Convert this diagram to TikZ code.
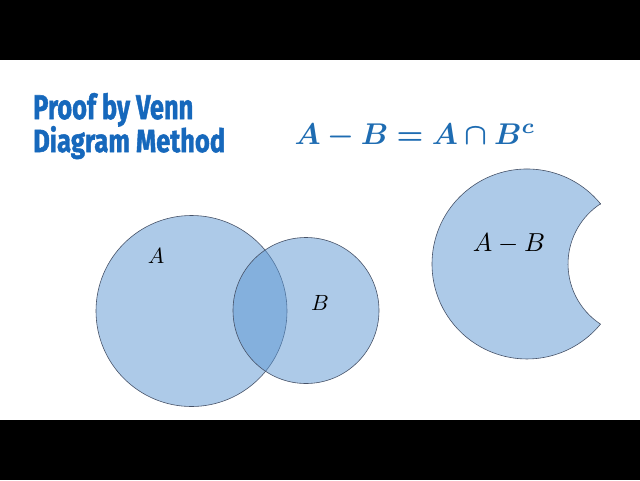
\documentclass[tikz,border=0pt]{standalone}
\usepackage{amsmath,bm}
\usepackage{fontspec}
\newfontfamily\titlefont[BoldFeatures={FakeBold=1.6}]{Fira Sans}
\definecolor{titleblue}{RGB}{22,104,188}
\definecolor{eqblue}{RGB}{30,108,178}
\definecolor{vennfill}{RGB}{93,151,211}
\definecolor{vennline}{RGB}{70,82,104}
\newcommand{\sizedmath}[2]{\scalebox{#1}{$#2$}}
\begin{document}
\begin{tikzpicture}[x=1pt, y=-1pt,
  venn/.style={draw=vennline, line width=0.6pt, fill=vennfill, fill opacity=0.5},
  setlabel/.style={inner sep=0pt}]
  \useasboundingbox (0,0) rectangle (640,480);
  \fill[white] (0,60) rectangle (640,420);
  \fill[black] (0,0) rectangle (640,60);
  \fill[black] (0,420) rectangle (640,480);

  \coordinate (Ac) at (191.5,311);
  \coordinate (Bc) at (306,310.5);

  \node[anchor=base west, inner sep=0pt, text=titleblue] (title1) at (33,119)
    {\resizebox{160pt}{26pt}{\titlefont\bfseries Proof by Venn}};
  \node[anchor=base west, inner sep=0pt, text=titleblue] (title2) at (33,152)
    {\resizebox{192pt}{26pt}{\titlefont\bfseries Diagram Method}};
  \node[anchor=base, inner sep=0pt, text=eqblue] (eq) at (415,144)
    {\sizedmath{3.0}{\bm{A-B=A\cap B^{c}}}};

  \draw[venn] (Ac) circle (95.5);
  \draw[venn] (Bc) circle (73);
  \node[setlabel] (labA) at (156,256) {\sizedmath{2.2}{A}};
  \node[setlabel] (labB) at (320,303) {\sizedmath{2.2}{B}};

  \draw[venn] (600.5,203.8) arc[start angle=-39.3, end angle=-320.7, radius=95]
    arc[start angle=123.3, end angle=236.7, radius=72] -- cycle;
  \node[setlabel] (labAB) at (509,244) {\sizedmath{2.6}{A-B}};
\end{tikzpicture}
\end{document}
